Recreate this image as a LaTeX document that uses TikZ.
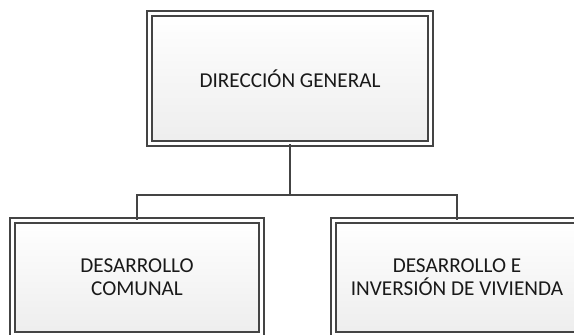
\documentclass[tikz,border=0pt]{standalone}
\usepackage{fontspec}
\setmainfont{Carlito}
\usetikzlibrary{shadows}
\definecolor{linegray}{HTML}{444444}
\tikzset{
  unitbox/.style={draw=linegray, double=white, line width=1.1pt, double distance=2.6pt,
    top color=white, bottom color=black!7, align=center, inner sep=0pt,
    font=\fontsize{15.9}{17.3}\selectfont, text=black!90,
    drop shadow={shadow xshift=0pt, shadow yshift=-2.5pt, opacity=0.12}},
  link/.style={draw=linegray, line width=1.5pt}
}
\begin{document}
\begin{tikzpicture}[x=0.75pt,y=0.75pt]
\useasboundingbox (0,0) rectangle (574,335);
\clip (0,0) rectangle (574,335);

\node[unitbox, minimum width=210.75pt, minimum height=97.5pt] (gen) at (290,256.5) {DIRECCIÓN GENERAL};
\node[unitbox, minimum width=186.75pt, minimum height=85.5pt] (com) at (137,57.5) {DESARROLLO\\COMUNAL};
\node[unitbox, minimum width=185.25pt, minimum height=85.5pt] (viv) at (457,57.5) {DESARROLLO E\\INVERSIÓN DE VIVIENDA};

\coordinate (bus) at (290,140);
\draw[link] (gen.south) -- (bus);
\draw[link] (bus) -| (com.north);
\draw[link] (bus) -| (viv.north);
\end{tikzpicture}
\end{document}
